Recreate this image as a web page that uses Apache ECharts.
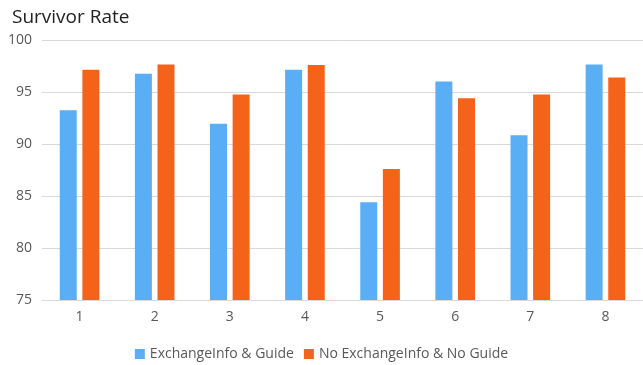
<!DOCTYPE html>
<html>
<head>
<meta charset="utf-8">
<script src="https://cdn.jsdelivr.net/npm/echarts@6/dist/echarts.min.js"></script>
<style>
  html, body { margin: 0; padding: 0; background: #fff; }
  #chart { width: 643px; height: 365px; }
</style>
</head>
<body>
<div id="chart"></div>
<script>
const categories = ['1', '2', '3', '4', '5', '6', '7', '8'];
const withGuide = [93.25, 96.75, 91.95, 97.15, 84.4, 96.0, 90.85, 97.65];
const noGuide = [97.15, 97.65, 94.75, 97.6, 87.6, 94.4, 94.75, 96.4];
const seriesNames = ['ExchangeInfo & Guide', 'No ExchangeInfo & No Guide'];

const font = '"Open Sans", "Noto Sans", sans-serif';
const chart = echarts.init(document.getElementById('chart'));

chart.setOption({
  animation: false,
  title: {
    text: 'Survivor Rate',
    left: 7,
    top: 3,
    textStyle: { fontFamily: font, fontSize: 19, fontWeight: 'normal', color: '#222' }
  },
  legend: {
    bottom: -1,
    left: 'center',
    itemWidth: 10,
    itemHeight: 10,
    itemGap: 10,
    icon: 'rect',
    textStyle: { fontFamily: font, fontSize: 14, color: '#595959' },
    data: seriesNames
  },
  grid: { left: 42, right: -8, top: 40, bottom: 65, containLabel: false },
  xAxis: {
    type: 'category',
    data: categories,
    axisLine: { show: false },
    axisTick: { show: false },
    axisLabel: { fontFamily: font, fontSize: 14, color: '#595959', margin: 10 }
  },
  yAxis: {
    type: 'value',
    min: 75,
    max: 100,
    interval: 5,
    axisLine: { show: false },
    axisTick: { show: false },
    axisLabel: { fontFamily: font, fontSize: 14, color: '#595959', margin: 10 },
    splitLine: { lineStyle: { color: '#d9d9d9' } }
  },
  series: [
    {
      name: seriesNames[0],
      type: 'bar',
      data: withGuide,
      barWidth: 17,
      barGap: '33%',
      itemStyle: { color: '#5aaef6' }
    },
    {
      name: seriesNames[1],
      type: 'bar',
      data: noGuide,
      barWidth: 17,
      itemStyle: { color: '#f5621a' }
    }
  ]
});
</script>
</body>
</html>
